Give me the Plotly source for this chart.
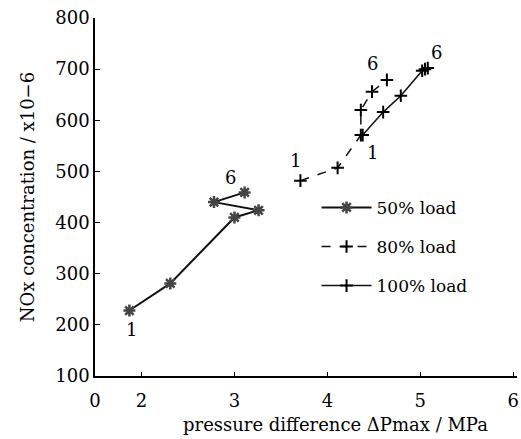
import plotly.graph_objects as go

# Data
x50 = [1.87, 2.31, 3.00, 3.26, 2.78, 3.11]
y50 = [228, 281, 410, 424, 440, 459]

x80 = [3.71, 4.11, 4.36, 4.36, 4.48, 4.64]
y80 = [482, 507, 571, 620, 656, 679]

x100 = [4.38, 4.60, 4.79, 5.02, 5.05, 5.08]
y100 = [571, 616, 648, 697, 700, 702]

series_names = ["50% load", "80% load", "100% load"]

# point-number labels: (x, y, text)
lab_x = [1.89, 2.96, 3.66, 4.48, 4.49, 5.17]
lab_y = [190, 488, 522, 537, 712, 733]
lab_t = ["1", "6", "1", "1", "6", "6"]

x_tickvals = [1.5, 2, 3, 4, 5, 6]
x_ticktext = ["0", "2", "3", "4", "5", "6"]

FONT = "DejaVu Serif"

fig = go.Figure()
fig.add_trace(go.Scatter(
    x=x50, y=y50, name=series_names[0], mode="lines+markers",
    line=dict(color="#111", width=2),
    marker=dict(symbol="asterisk-open", size=10, color="#444", line=dict(width=2.5, color="#444")),
    legendgroup="a"))
fig.add_trace(go.Scatter(
    x=x80, y=y80, name=series_names[1], mode="lines+markers",
    line=dict(color="#111", width=1.5, dash="dash"),
    marker=dict(symbol="cross-thin-open", size=9, color="#000", line=dict(width=2, color="#000")),
    legendgroup="b"))
fig.add_trace(go.Scatter(
    x=x100, y=y100, name=series_names[2], mode="lines+markers",
    line=dict(color="#111", width=1.5),
    marker=dict(symbol="cross-thin-open", size=9, color="#000", line=dict(width=2, color="#000")),
    legendgroup="c"))

for xx, yy, tt in zip(lab_x, lab_y, lab_t):
    fig.add_annotation(x=xx, y=yy, text=tt, showarrow=False,
                       font=dict(family=FONT, size=18, color="#000"))

fig.add_annotation(xref="paper", yref="paper", x=0.57, y=-0.10,
                   text="pressure difference \u0394Pmax / MPa", showarrow=False,
                   xanchor="center", yanchor="top",
                   font=dict(family=FONT, size=18, color="#000"))

fig.update_layout(
    width=521, height=439,
    margin=dict(l=95, r=4, t=18, b=63, autoexpand=False),
    paper_bgcolor="white", plot_bgcolor="white",
    font=dict(family=FONT, size=18, color="#000"),
    showlegend=True,
    legend=dict(x=0.525, y=0.52, xanchor="left", yanchor="top",
                traceorder="grouped", tracegroupgap=14, itemwidth=50,
                bgcolor="rgba(0,0,0,0)", font=dict(family=FONT, size=17)),
    xaxis=dict(range=[1.5, 6.04], tickvals=x_tickvals, ticktext=x_ticktext,
               showgrid=False, zeroline=False, showline=True, linecolor="#000",
               linewidth=1.5, ticks="inside", ticklen=4, tickcolor="#000",
               ticklabelstandoff=8, ticklabeloverflow="allow", automargin=False,
               tickfont=dict(family=FONT, size=18)),
    yaxis=dict(range=[100, 800], dtick=100, showgrid=False, zeroline=False,
               showline=True, linecolor="#000", linewidth=1.5, ticks="inside",
               ticklen=5, tickcolor="#000", tickfont=dict(family=FONT, size=18),
               automargin=False,
               title=dict(text="NOx concentration / x10\u22126", standoff=16,
                          font=dict(family=FONT, size=18))),
)

fig.write_html("out.html")
